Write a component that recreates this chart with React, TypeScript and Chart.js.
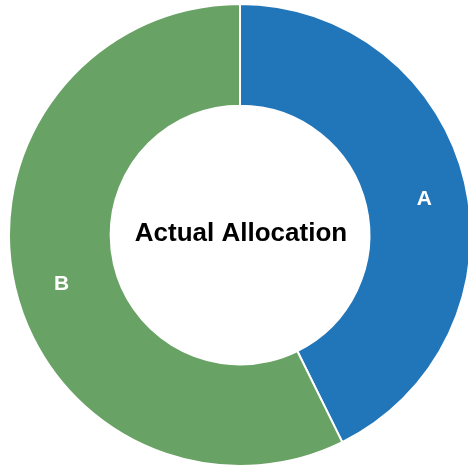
import React, { useEffect, useRef } from "react";
import { Chart, registerables } from "chart.js";

Chart.register(...registerables);

const categories = ["A", "B"];
const values = [42.7, 57.3];
const colors = ["#2175b9", "#68a264"];
const centerTitle = "Actual Allocation";

const labelPlugin = {
  id: "sliceLabels",
  afterDatasetsDraw(chart: any) {
    const ctx = chart.ctx;
    const meta = chart.getDatasetMeta(0);
    ctx.save();
    ctx.fillStyle = "#ffffff";
    ctx.font = "bold 21px 'Liberation Sans', Arial, sans-serif";
    ctx.textAlign = "center";
    ctx.textBaseline = "middle";
    meta.data.forEach((arc: any, i: number) => {
      const { x, y, startAngle, endAngle, innerRadius, outerRadius } = arc.getProps(
        ["x", "y", "startAngle", "endAngle", "innerRadius", "outerRadius"],
        true
      );
      const mid = (startAngle + endAngle) / 2;
      const r = (innerRadius + outerRadius) / 2 + 6;
      ctx.fillText(categories[i], x + Math.cos(mid) * r + 3, y + Math.sin(mid) * r + 7);
    });
    const a0 = meta.data[0];
    ctx.fillStyle = "#000000";
    ctx.font = "bold 26px 'Liberation Sans', Arial, sans-serif";
    ctx.fillText(centerTitle, a0.x + 1, a0.y - 1);
    ctx.restore();
  },
};

export default function App() {
  const ref = useRef<HTMLCanvasElement | null>(null);
  useEffect(() => {
    document.body.style.margin = "0";
    document.body.style.overflow = "hidden";
    const chart = new Chart(ref.current as HTMLCanvasElement, {
      type: "doughnut",
      data: {
        labels: categories,
        datasets: [
          {
            data: values,
            backgroundColor: colors,
            borderColor: "#ffffff",
            borderWidth: 2,
          },
        ],
      },
      options: {
        responsive: false,
        animation: false,
        cutout: "56%",
        layout: { padding: 3 },
        plugins: {
          legend: { display: false },
          tooltip: { enabled: false },
        },
      },
      plugins: [labelPlugin],
    });
    return () => chart.destroy();
  }, []);
  return (
    <div style={{ position: "fixed", left: 0, top: 0, width: 468, height: 467, overflow: "hidden", background: "#fff" }}>
      <canvas ref={ref} width={480} height={470} style={{ width: 480, height: 470, display: "block" }} />
    </div>
  );
}
